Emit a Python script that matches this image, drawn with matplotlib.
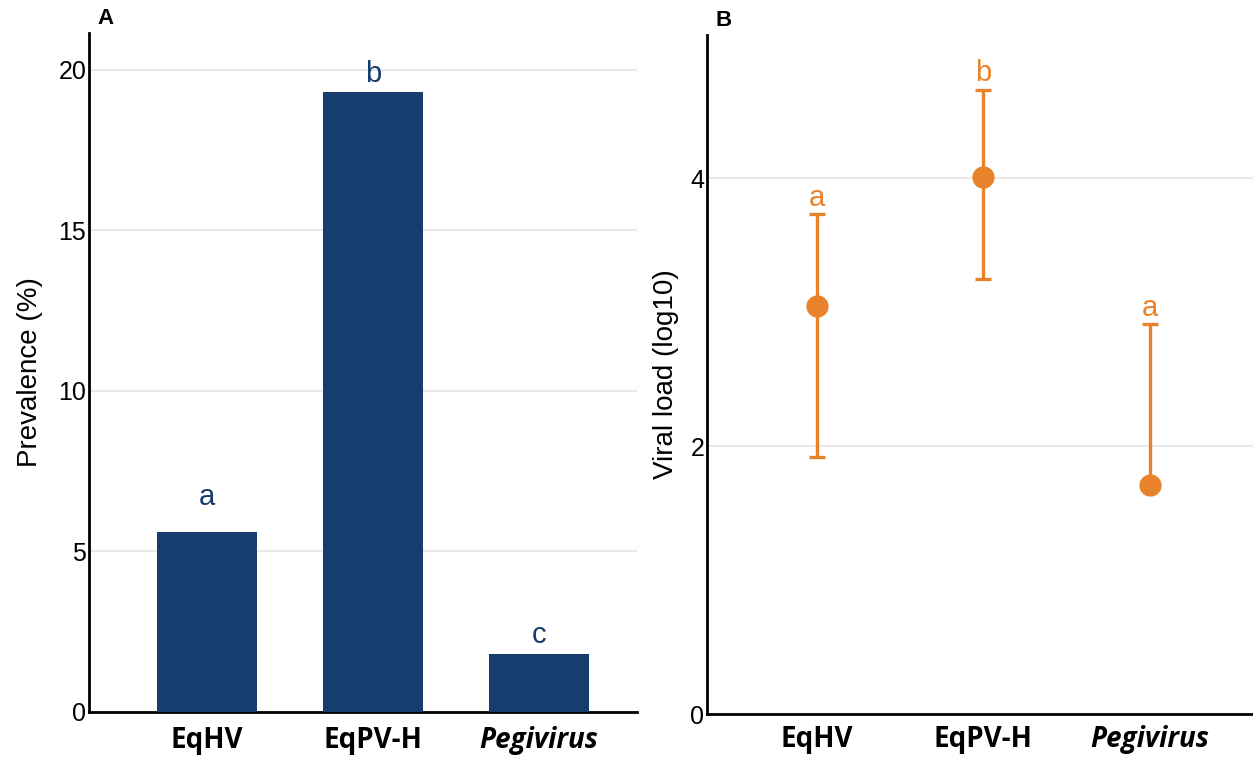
import numpy as np
import matplotlib.pyplot as plt

plt.rcParams['font.family'] = ['Liberation Sans', 'DejaVu Sans']

groups = ['EqHV', 'EqPV-H', 'Pegivirus']
prevalence = [5.6, 19.3, 1.8]
prev_letters = ['a', 'b', 'c']

load_mean = [3.05, 4.01, 1.71]
load_low = [1.92, 3.25, 1.71]
load_high = [3.73, 4.66, 2.91]
load_letters = ['a', 'b', 'a']

navy = '#163d6e'
orange = '#e8822b'
grid_c = '#e8e8e8'

fig = plt.figure(figsize=(12.53, 7.58), dpi=100)
axA = fig.add_axes([0.071, 0.0607, 0.4374, 0.8958])
axB = fig.add_axes([0.5643, 0.058, 0.4357, 0.8958])

x = np.arange(len(groups))

# panel A
axA.bar(x, prevalence, width=0.6, color=navy, zorder=3)
letter_pad = [0.65, 0.15, 0.15]  # gap between bar top and letter
for xi, v, l, p in zip(x, prevalence, prev_letters, letter_pad):
    axA.text(xi, v + p, l, ha='center', va='bottom', fontsize=21, color=navy)
axA.set_xlim(-0.71, 2.59)
axA.set_ylim(0, 21.15)
axA.set_yticks([0, 5, 10, 15, 20])
axA.set_ylabel('Prevalence (%)', fontsize=20, labelpad=11)

# panel B
yerr = [np.array(load_mean) - np.array(load_low), np.array(load_high) - np.array(load_mean)]
axB.errorbar(x, load_mean, yerr=yerr, fmt='o', color=orange, markersize=15,
             elinewidth=2.4, capsize=6, capthick=2.4, zorder=3)
for xi, v, l in zip(x, load_high, load_letters):
    axB.text(xi, v + 0.02, l, ha='center', va='bottom', fontsize=21, color=orange)
axB.set_xlim(-0.66, 2.62)
axB.set_ylim(0, 5.07)
axB.set_yticks([0, 2, 4])
axB.set_ylabel('Viral load (log10)', fontsize=20, labelpad=8)

for ax, lab, pad in [(axA, 'A', 10), (axB, 'B', 8)]:
    ax.set_xticks(x)
    ax.set_xticklabels(groups, fontsize=20, fontweight='bold', family=['Open Sans', 'DejaVu Sans'])
    ax.get_xticklabels()[2].set_style('italic')
    ax.tick_params(length=0, labelsize=18, pad=2)
    ax.tick_params(axis='x', labelsize=20, pad=pad)
    ax.spines['top'].set_visible(False)
    ax.spines['right'].set_visible(False)
    ax.spines['left'].set_linewidth(2)
    ax.spines['bottom'].set_linewidth(2)
    ax.yaxis.grid(True, color=grid_c, linewidth=1.5, zorder=0)
    ax.set_axisbelow(True)
    ax.text(0.015, 1.006, lab, transform=ax.transAxes, fontsize=16, fontweight='bold',
            ha='left', va='bottom')

fig.savefig('out.png', dpi=100)
